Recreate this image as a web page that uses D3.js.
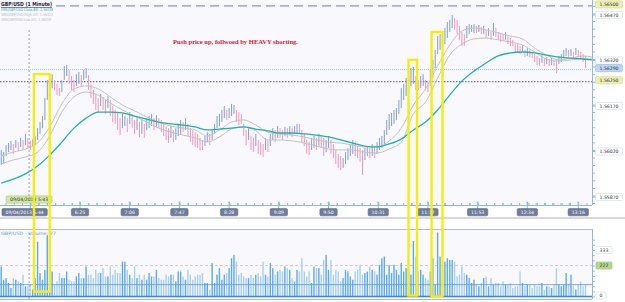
<!DOCTYPE html>
<html>
<head>
<meta charset="utf-8">
<script src="https://cdn.jsdelivr.net/npm/d3@7"></script>
<style>
  body { margin: 0; background: #fff; font-family: "DejaVu Sans", sans-serif; }
</style>
</head>
<body>
<svg id="chart" width="625" height="302"></svg>
<script>
// prices below are stored in 0.00001 steps above BASE
var BASE = 1.56;

// 2-minute bars from 05:20
var barHigh = [25,18,41,48,55,45,58,51,65,58, 78,65,55,61,71,97,117,137,196,256,
  262,275,256,243,229,256,302,305,289,269, 256,275,282,272,289,295,272,243,223,210,
  196,210,200,190,203,190,170,157,150,130, 144,137,130,150,137,124,130,117,124,111,
  130,137,144,130,140,130,124,111,104,97, 104,91,97,111,124,117,130,111,97,91,
  84,78,65,58,71,84,78,91,111,137, 144,157,170,157,163,177,173,157,150,144,
  111,91,97,71,65,78,58,51,45,65, 58,78,97,91,104,97,91,101,97,104,
  97,104,111,111,91,78,58,51,65,71, 65,78,71,65,58,71,58,45,25,12,
  5,-2,18,32,45,58,51,38,32,25, 32,38,32,45,38,51,65,71,91,124,
  144,147,157,163,190,229,243,262,275,295, 299,269,256,269,275,256,249,289,322,355,
  401,407,401,427,447,454,470,460,454,434, 414,407,434,440,437,440,434,437,430,434,
  421,427,414,444,427,414,411,407,414,401, 394,388,374,374,368,371,355,361,355,348,
  341,335,328,338,328,331,325,328,322,322, 335,341,355,361,355,358,348,361,355,348,
  341,335];
var barLow = [-25,-18,5,18,25,12,32,22,35,25, 41,32,25,35,41,58,78,97,124,190,
  203,229,223,206,203,216,256,269,243,223, 216,236,243,233,256,262,223,196,177,157,
  150,170,157,144,163,137,117,111,91,74, 97,104,84,111,97,78,91,68,78,65,
  91,97,104,91,101,97,84,71,58,48, 65,51,58,71,78,84,91,71,51,41,
  35,32,25,25,38,51,41,58,78,97, 104,117,130,124,130,137,144,117,107,111,
  71,41,58,25,18,38,12,8,2,25, 18,38,58,51,65,65,58,71,65,74,
  68,78,81,78,51,38,12,8,25,32, 25,38,32,5,18,32,12,-2,-21,-34,
  -41,-34,-21,-8,5,12,5,-2,-15,-58, -8,5,-2,5,-2,12,25,32,45,74,
  91,104,111,124,144,163,190,203,216,236, 243,223,223,229,236,223,216,236,262,295,
  341,355,355,374,394,414,427,421,407,388, 368,368,394,407,414,411,411,414,407,407,
  394,401,388,401,398,388,381,384,388,374, 368,368,348,345,341,348,331,335,331,328,
  315,305,302,312,302,308,302,305,302,279, 308,315,328,335,331,335,328,338,331,328,
  315,295];
var volume = [215,120,132,97,61,132,120,108,97,156, 73,73,85,50,132,392,168,120,191,439,
  239,179,85,108,168,132,132,179,120,108, 108,144,168,132,132,215,156,156,132,191,
  168,168,203,144,144,215,156,191,168,168, 250,250,191,156,132,215,132,156,120,156,
  120,168,144,144,191,132,120,120,156,144, 156,156,108,179,179,144,120,191,
  156,120,144,156,156,168,97,97,50,239, 97,156,203,120,156,168,203,274,298,250,
  156,168,144,132,132,156,132,156,168,144, 250,156,144,239,203,156,179,191,179,215,
  203,191,132,108,191,179,274,179,144,179, 97,215,203,203,156,262,298,191,262,156,
  191,179,108,132,191,179,144,120,179,191, 227,156,168,179,215,191,179,156,227,274,
  286,156,227,168,227,191,156,239,179,203, 262,156,397,286,179,191,156,132,120,179,
  274,85,458,286,179,250,274,262,262,250, 144,156,215,168,156,132,97,120,85,73,
  97,132,144,73,132,85,97,97,73,108, 85,85,97,61,73,73,179,97,73,85,
  85,61,85,73,73,97,50,73,73,61, 85,203,85,73,85,168,85,156,73,50,
  85,108,73,85];

// moving averages read every 10 minutes
var maTimes = ["5:20","5:30","5:40","5:50","6:00","6:10","6:20","6:30","6:40","6:50",
  "7:00","7:10","7:20","7:30","7:40","7:50","8:00","8:10","8:20","8:30",
  "8:40","8:50","9:00","9:10","9:20","9:30","9:40","9:50","10:00","10:10",
  "10:20","10:30","10:40","10:50","11:00","11:10","11:20","11:30","11:40","11:50",
  "12:00","12:10","12:20","12:30","12:40","12:50","13:00","13:10","13:20","13:28"];
var emaClose = [-84,-71,-54,-28,8,51,97,130,150,150, 147,137,127,117,111,107,101,91,94,97,
  101,94,88,81,81,78,74,68,58,48, 38,35,45,61,91,117,157,206,252,285,
  312,335,345,348,345,338,331,328,325,322];
var smaHigh = [5,18,28,48,101,177,226,236,226,200, 173,154,134,117,104,97,91,71,91,117,
  124,107,84,78,74,68,58,51,48,41, 35,35,55,97,173,226,302,371,417,427,
  421,411,401,391,361,338,322,328,335,331];
var smaLow = [-21,-8,2,18,71,150,200,216,206,180, 157,137,117,97,84,74,65,51,68,94,
  101,88,58,58,55,48,38,28,25,25, 18,15,28,51,144,183,262,338,374,391,
  394,388,381,371,348,325,318,322,325,325];

var timeTicks = ["5:44","6:25","7:06","7:47","8:28","9:09","9:50","10:31","11:12","11:53","12:34","13:16"];
var timeTickLabels = ["09/04/2013 5:44","6:25","7:06","7:47","8:28","9:09","9:50","10:31","11:12","11:53","12:34","13:16"];
var priceTicks = [1.56470, 1.56320, 1.56170, 1.56020, 1.55870];
var priceMarks = [
  {v: 1.56500, fill: "#eeeeb4", stroke: "#d6d68a"},
  {v: 1.56290, fill: "#bcd6f4", stroke: "#94bce8"},
  {v: 1.56250, fill: "#eeeeb4", stroke: "#d6d68a"}
];
var volTicks = [333, 0];
var volMark = 222;
var volAvg = 85;
var crossTime = "5:43";
var boxes = [
  {from: "5:47", to: "6:00", top: 1.56275, bottom: 35},
  {from: "10:56", to: "11:03", top: 1.56322, bottom: 7},
  {from: "11:15", to: "11:24", top: 1.56414, bottom: 0}
];

function at(hm) { var p = hm.split(":"); return new Date(2013, 3, 9, +p[0], +p[1]); }

var W = 625, H = 302, plotR = 592;
var mainBot = 205, volTop = 229, volBot = 299;

var x = d3.scaleTime().domain([at("5:19"), at("13:28")]).range([0, 592.8]);
var yP = d3.scaleLinear().domain([1.5587, 1.5647]).range([197, 15]);
var yV = d3.scaleLinear().domain([0, 333]).range([296.5, 250]);

var bars = barHigh.map(function (h, i) {
  return {t: d3.timeMinute.offset(at("5:20"), 2 * i), hi: BASE + h / 1e5, lo: BASE + barLow[i] / 1e5, vol: volume[i]};
});
bars.forEach(function (d, i) {
  var p = i ? bars[i - 1] : d;
  d.up = (d.hi + d.lo) >= (p.hi + p.lo);
});

var svg = d3.select("#chart");
svg.append("rect").attr("width", W).attr("height", H).attr("fill", "#fff");
svg.append("rect").attr("x", 0).attr("y", 0).attr("width", plotR).attr("height", mainBot).attr("fill", "#f9f9fd");
svg.append("rect").attr("x", 0).attr("y", volTop).attr("width", plotR).attr("height", volBot - volTop).attr("fill", "#f9f9fd");
svg.append("rect").attr("x", 0).attr("y", 217).attr("width", W).attr("height", 2).attr("fill", "#d8d8e0");
svg.append("line").attr("x1", 0).attr("x2", plotR).attr("y1", volTop + 0.5).attr("y2", volTop + 0.5).attr("stroke", "#b4bccc");
svg.append("line").attr("x1", 0).attr("x2", plotR).attr("y1", volBot + 0.5).attr("y2", volBot + 0.5).attr("stroke", "#b4bccc");

svg.append("clipPath").attr("id", "clipMain").append("rect").attr("width", plotR).attr("height", mainBot);
var main = svg.append("g").attr("clip-path", "url(#clipMain)");

// horizontal reference lines
main.append("line").attr("x1", 0).attr("x2", plotR).attr("y1", yP(priceMarks[0].v)).attr("y2", yP(priceMarks[0].v))
  .attr("stroke", "#a9aaee").attr("stroke-width", 1.6).attr("stroke-dasharray", "9,5");
main.append("line").attr("x1", 0).attr("x2", plotR).attr("y1", yP(priceMarks[1].v)).attr("y2", yP(priceMarks[1].v))
  .attr("stroke", "#8cc6f2").attr("stroke-width", 1).attr("stroke-dasharray", "1,1");
main.append("line").attr("x1", 0).attr("x2", plotR).attr("y1", yP(priceMarks[2].v)).attr("y2", yP(priceMarks[2].v))
  .attr("stroke", "#4848c0").attr("stroke-width", 1).attr("stroke-dasharray", "1.5,1.5");

// crosshair
var cx = x(at(crossTime));
main.append("line").attr("x1", cx).attr("x2", cx).attr("y1", 30).attr("y2", 196)
  .attr("stroke", "#a0a0a8").attr("stroke-dasharray", "2,2");
svg.append("line").attr("x1", cx).attr("x2", cx).attr("y1", 233).attr("y2", volBot)
  .attr("stroke", "#a0a0a8").attr("stroke-dasharray", "2,2");

// candles
main.selectAll("rect.bar").data(bars).enter().append("rect").attr("class", "bar")
  .attr("x", function (d) { return x(d.t) - 0.5; })
  .attr("width", 1.05)
  .attr("y", function (d) { return yP(d.hi); })
  .attr("height", function (d) { return Math.max(1, yP(d.lo) - yP(d.hi)); })
  .attr("fill", function (d) { return d.up ? "#86a3cc" : "#f29ac0"; });

// moving averages
function maLine(vals) {
  return d3.line().curve(d3.curveMonotoneX)
    .x(function (d, i) { return x(at(maTimes[i])); })
    .y(function (d) { return yP(BASE + d / 1e5); })(vals);
}
main.append("path").attr("d", maLine(smaHigh)).attr("fill", "none").attr("stroke", "#c2c2c2").attr("stroke-width", 1);
main.append("path").attr("d", maLine(smaLow)).attr("fill", "none").attr("stroke", "#c2c2c2").attr("stroke-width", 1);
main.append("path").attr("d", maLine(emaClose)).attr("fill", "none").attr("stroke", "#1fb2a9").attr("stroke-width", 1.3);

// volume
var vol = svg.append("g");
vol.append("line").attr("x1", 0).attr("x2", plotR).attr("y1", yV(volMark)).attr("y2", yV(volMark))
  .attr("stroke", "#cfcfd4").attr("stroke-dasharray", "3,2");
vol.selectAll("rect.vb").data(bars).enter().append("rect").attr("class", "vb")
  .attr("x", function (d) { return x(d.t) - 0.7; })
  .attr("width", 1.4)
  .attr("y", function (d) { return yV(d.vol); })
  .attr("height", function (d) { return yV(0) - yV(d.vol); })
  .attr("fill", function (d) { return d.up ? "#5ea9ee" : "#a9cff3"; });
vol.append("line").attr("x1", 0).attr("x2", plotR).attr("y1", yV(volAvg)).attr("y2", yV(volAvg))
  .attr("stroke", "#4f9be6").attr("stroke-width", 0.8);
vol.append("line").attr("x1", 0).attr("x2", plotR).attr("y1", yV(0)).attr("y2", yV(0))
  .attr("stroke", "#2f8ae4").attr("stroke-width", 1.4);

// legends
svg.append("rect").attr("x", 0).attr("y", 0).attr("width", 54).attr("height", 8).attr("fill", "#f9f9fd");
svg.append("text").attr("x", 1).attr("y", 6).attr("font-size", 5.5).attr("font-weight", "bold")
  .attr("fill", "#1c1c4c").attr("text-decoration", "underline").attr("textLength", 51).attr("lengthAdjust", "spacingAndGlyphs")
  .text("GBP/USD (1 Minute)");
[["EMA(GBP/USD:Close,89): 1.56238", "#22b2a9", 10.8, 52],
 ["SMA(GBP/USD:High,34): 1.56324", "#b8b8b8", 15.8, 52],
 ["SMA(GBP/USD:Low,34): 1.56219", "#b8b8b8", 20.8, 50]].forEach(function (r) {
  svg.append("text").attr("x", 1).attr("y", r[2]).attr("font-size", 4.2).attr("fill", r[1])
    .attr("textLength", r[3]).attr("lengthAdjust", "spacingAndGlyphs").text(r[0]);
});
svg.append("text").attr("x", 173).attr("y", 44).attr("font-family", "Liberation Serif, serif").attr("font-weight", "bold")
  .attr("font-size", 7).attr("fill", "#e4102c").attr("textLength", 125).attr("lengthAdjust", "spacingAndGlyphs")
  .text("Push price up, follwoed by HEAVY shorting.");
svg.append("text").attr("x", 1).attr("y", 235).attr("font-size", 4.5).attr("fill", "#5b9be0")
  .attr("textLength", 55).attr("lengthAdjust", "spacingAndGlyphs").text("GBP/USD - Volume: 77");

// boxes with text
function tag(g, cxp, cyp, txt, fill, stroke, color, minW, left) {
  var t = g.append("text").attr("y", cyp + 1.7).attr("font-size", 4.6).attr("fill", color)
    .attr("text-anchor", "middle").text(txt);
  var w = Math.max(minW || 0, t.node().getComputedTextLength() + 7);
  var bx = left != null ? left : cxp - w / 2;
  t.attr("x", bx + w / 2);
  g.insert("rect", "text").attr("x", bx).attr("y", cyp - 3.6).attr("width", w).attr("height", 7.2)
    .attr("rx", 1.2).attr("fill", fill).attr("stroke", stroke).attr("stroke-width", 0.6);
}

// right price axis
var axR = svg.append("g");
axR.append("line").attr("x1", plotR + 0.5).attr("x2", plotR + 0.5).attr("y1", 0).attr("y2", mainBot)
  .attr("stroke", "#8ab8e8");
axR.append("g").attr("transform", "translate(" + (plotR + 0.5) + ",0)")
  .call(d3.axisRight(yP).tickValues(d3.range(1.55850, 1.56510, 0.00025)).tickSize(2.5).tickFormat(""))
  .call(function (g) { g.select(".domain").remove(); g.selectAll("line").attr("stroke", "#8ab8e8"); });
priceTicks.forEach(function (v) {
  var g = axR.append("g");
  g.append("line").attr("x1", plotR).attr("x2", 596).attr("y1", yP(v)).attr("y2", yP(v)).attr("stroke", "#8ab8e8");
  tag(g, 0, yP(v), d3.format(".5f")(v), "#fff", "#cdd6e4", "#333", 27, 595.5);
});
priceMarks.forEach(function (m) {
  tag(axR.append("g"), 0, Math.max(4, yP(m.v) - 1.5), d3.format(".5f")(m.v), m.fill, m.stroke, "#333", 27, 595.5);
});

// right volume axis
var axV = svg.append("g");
axV.append("line").attr("x1", plotR + 0.5).attr("x2", plotR + 0.5).attr("y1", volTop).attr("y2", volBot)
  .attr("stroke", "#8ab8e8");
axV.append("g").attr("transform", "translate(" + (plotR + 0.5) + ",0)")
  .call(d3.axisRight(yV).tickValues(d3.range(0, 420, 37)).tickSize(2.5).tickFormat(""))
  .call(function (g) { g.select(".domain").remove(); g.selectAll("line").attr("stroke", "#8ab8e8"); });
volTicks.forEach(function (v) {
  tag(axV.append("g"), 0, Math.min(yV(v), 295.5), String(v), "#fff", "#cdd6e4", "#333", v ? 16 : 10, 596);
});
tag(axV.append("g"), 0, yV(volMark), String(volMark), "#b6d98c", "#98c46c", "#333", 16, 596);

// time axis
var axT = svg.append("g");
axT.append("line").attr("x1", 0).attr("x2", plotR).attr("y1", mainBot + 0.5).attr("y2", mainBot + 0.5)
  .attr("stroke", "#8ab8e8").attr("stroke-width", 1.2);
var minor = [];
timeTicks.forEach(function (t, i) {
  for (var k = -6; k < 6; k++) minor.push(d3.timeSecond.offset(at(t), Math.round(k * 41 * 60 / 6)));
});
axT.append("g").attr("transform", "translate(0," + mainBot + ")")
  .call(d3.axisTop(x).tickValues(minor.filter(function (d) { return x(d) > 0 && x(d) < plotR; })).tickSize(2).tickFormat(""))
  .call(function (g) { g.select(".domain").remove(); g.selectAll("line").attr("stroke", "#8ab8e8"); });
timeTicks.forEach(function (t, i) {
  var tx = x(at(t));
  var g = axT.append("g");
  g.append("line").attr("x1", tx).attr("x2", tx).attr("y1", 202).attr("y2", 209).attr("stroke", "#8ab8e8");
  g.append("circle").attr("cx", tx).attr("cy", 202.5).attr("r", 1).attr("fill", "#8ab8e8");
  tag(g, tx, 212.2, timeTickLabels[i], "#6e7d9b", "#5e6d8a", "#fff", 17, i === 0 ? 2 : null);
});

// crosshair date tag
tag(svg.append("g"), cx, 199.5, "09/04/2013 " + crossTime, "#d6e8a4", "#a9c46c", "#333", 46);

// highlight boxes
boxes.forEach(function (b) {
  var x0 = x(at(b.from)), x1 = x(at(b.to));
  var y0 = yP(b.top), y1 = yV(b.bottom);
  svg.append("rect").attr("x", x0).attr("y", y0).attr("width", x1 - x0).attr("height", y1 - y0)
    .attr("fill", "none").attr("stroke", "#f6ee0a").attr("stroke-width", 2.4);
});
</script>
</body>
</html>
